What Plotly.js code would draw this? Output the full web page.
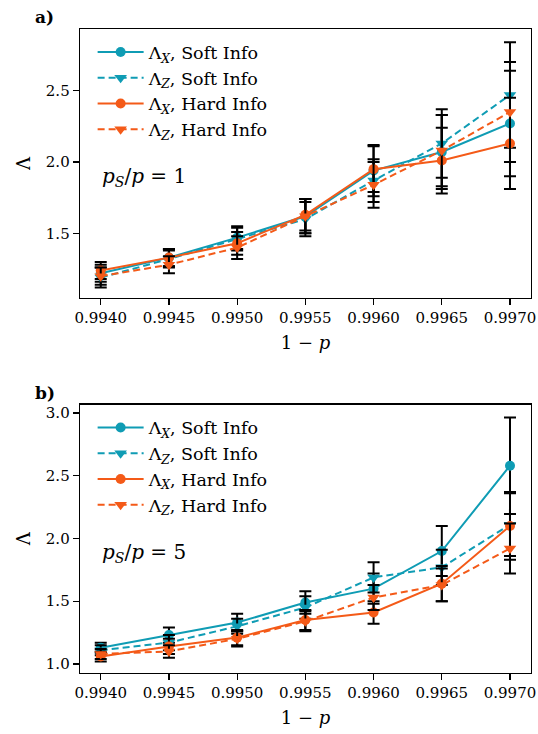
<!DOCTYPE html>
<html>
<head>
<meta charset="utf-8">
<script src="https://cdn.plot.ly/plotly-3.0.1.min.js"></script>
<style>html,body{margin:0;padding:0;background:#fff;}#chart{width:538px;height:734px;}</style>
</head>
<body>
<div id="chart"></div>
<script>
const xVals = [0.9940, 0.9945, 0.9950, 0.9955, 0.9960, 0.9965, 0.9970];

// Panel a) ps/p = 1
const lxSoft1 = [1.22, 1.33, 1.47, 1.62, 1.94, 2.07, 2.27];
const lzSoft1 = [1.19, 1.32, 1.46, 1.60, 1.87, 2.13, 2.47];
const lxHard1 = [1.24, 1.33, 1.43, 1.63, 1.95, 2.01, 2.13];
const lzHard1 = [1.20, 1.28, 1.40, 1.62, 1.84, 2.08, 2.35];
const exSoft1 = [0.06, 0.06, 0.08, 0.12, 0.18, 0.26, 0.37];
const ezSoft1 = [0.07, 0.06, 0.08, 0.12, 0.15, 0.24, 0.37];
const exHard1 = [0.06, 0.06, 0.08, 0.11, 0.16, 0.23, 0.32];
const ezHard1 = [0.06, 0.06, 0.08, 0.12, 0.16, 0.25, 0.35];

// Panel b) ps/p = 5
const lxSoft5 = [1.13, 1.23, 1.33, 1.49, 1.60, 1.90, 2.58];
const lzSoft5 = [1.11, 1.17, 1.30, 1.45, 1.69, 1.77, 2.11];
const lxHard5 = [1.06, 1.14, 1.21, 1.35, 1.41, 1.64, 2.10];
const lzHard5 = [1.08, 1.10, 1.20, 1.34, 1.53, 1.63, 1.92];
const exSoft5 = [0.04, 0.06, 0.07, 0.09, 0.12, 0.20, 0.385];
const ezSoft5 = [0.04, 0.06, 0.06, 0.09, 0.12, 0.14, 0.25];
const exHard5 = [0.04, 0.06, 0.06, 0.08, 0.09, 0.14, 0.27];
const ezHard5 = [0.04, 0.05, 0.06, 0.08, 0.10, 0.13, 0.20];

const seriesNames = [
  "Λ<sub><i>X</i></sub>, Soft Info",
  "Λ<sub><i>Z</i></sub>, Soft Info",
  "Λ<sub><i>X</i></sub>, Hard Info",
  "Λ<sub><i>Z</i></sub>, Hard Info"
];
const tickLabelsX = ["0.9940","0.9945","0.9950","0.9955","0.9960","0.9965","0.9970"];

const TEAL = "#0f9cb4";
const ORANGE = "#f45a18";
const FONT = "'DejaVu Serif', 'Liberation Serif', serif";

function mk(y, err, idx, axis, showleg) {
  const color = (idx < 2) ? TEAL : ORANGE;
  const dashed = (idx % 2 === 1);
  return {
    x: xVals, y: y, type: "scatter", mode: "lines+markers",
    name: seriesNames[idx], showlegend: showleg, legend: axis === 1 ? "legend" : "legend2",
    xaxis: axis === 1 ? "x" : "x2", yaxis: axis === 1 ? "y" : "y2",
    line: {color: color, width: 2, dash: dashed ? "7px,4px" : "solid"},
    marker: {color: color, size: dashed ? 11 : 10, symbol: dashed ? "triangle-down" : "circle", line: {width: 0}},
    error_y: {type: "data", array: err, visible: true, color: "#000", thickness: 2, width: 6}
  };
}

const data = [
  mk(lxSoft1, exSoft1, 0, 1, true), mk(lzSoft1, ezSoft1, 1, 1, true),
  mk(lxHard1, exHard1, 2, 1, true), mk(lzHard1, ezHard1, 3, 1, true),
  mk(lxSoft5, exSoft5, 0, 2, true), mk(lzSoft5, ezSoft5, 1, 2, true),
  mk(lxHard5, exHard5, 2, 2, true), mk(lzHard5, ezHard5, 3, 2, true)
];

const axisCommon = {
  showgrid: false, zeroline: false, showline: true, mirror: true,
  linecolor: "#000", linewidth: 1.3, ticks: "outside", ticklen: 6, tickwidth: 1.3,
  tickcolor: "#000", tickfont: {family: FONT, size: 15, color: "#000"}
};
const xRange = [0.993848, 0.997154];

const layout = {
  width: 538, height: 734,
  margin: {l: 80, r: 7, t: 29, b: 61},
  paper_bgcolor: "#fff", plot_bgcolor: "#fff",
  font: {family: FONT, color: "#000", size: 16},
  showlegend: true,
  xaxis: Object.assign({}, axisCommon, {
    domain: [0, 1], range: xRange, anchor: "y",
    tickmode: "array", tickvals: xVals, ticktext: tickLabelsX,
    title: {text: "1 − <i>p</i>", font: {family: FONT, size: 18}, standoff: 10}
  }),
  yaxis: Object.assign({}, axisCommon, {
    domain: [0.5823, 1], range: [1.047, 2.932], anchor: "x",
    tickmode: "array", tickvals: [1.5, 2.0, 2.5], ticktext: ["1.5","2.0","2.5"],
    title: {text: "Λ", font: {family: FONT, size: 18}, standoff: 10}
  }),
  xaxis2: Object.assign({}, axisCommon, {
    domain: [0, 1], range: xRange, anchor: "y2",
    tickmode: "array", tickvals: xVals, ticktext: tickLabelsX,
    title: {text: "1 − <i>p</i>", font: {family: FONT, size: 18}, standoff: 10}
  }),
  yaxis2: Object.assign({}, axisCommon, {
    domain: [0, 0.4166], range: [0.928, 3.066], anchor: "x2",
    tickmode: "array", tickvals: [1.0, 1.5, 2.0, 2.5, 3.0], ticktext: ["1.0","1.5","2.0","2.5","3.0"],
    title: {text: "Λ", font: {family: FONT, size: 18}, standoff: 10}
  }),
  legend: {x: 0.028, y: 0.992, xanchor: "left", yanchor: "top", bgcolor: "rgba(255,255,255,0)",
    font: {family: FONT, size: 17.5}, tracegroupgap: 0, itemwidth: 46},
  legend2: {x: 0.028, y: 0.409, xanchor: "left", yanchor: "top", bgcolor: "rgba(255,255,255,0)",
    font: {family: FONT, size: 17.5}, tracegroupgap: 0, itemwidth: 46},
  annotations: [
    {text: "<b>a)</b>", xref: "paper", yref: "paper", x: -0.105, y: 1.0, xanchor: "left", yanchor: "bottom", showarrow: false, font: {family: FONT, size: 17}},
    {text: "<b>b)</b>", xref: "paper", yref: "paper", x: -0.105, y: 0.4166, xanchor: "left", yanchor: "bottom", showarrow: false, font: {family: FONT, size: 17}},
    {text: "<i>p<sub>S</sub></i>/<i>p</i> = 1", xref: "paper", yref: "paper", x: 0.045, y: 0.770, xanchor: "left", yanchor: "middle", showarrow: false, font: {family: FONT, size: 20}},
    {text: "<i>p<sub>S</sub></i>/<i>p</i> = 5", xref: "paper", yref: "paper", x: 0.045, y: 0.186, xanchor: "left", yanchor: "middle", showarrow: false, font: {family: FONT, size: 20}}
  ]
};

Plotly.newPlot("chart", data, layout, {staticPlot: true, displayModeBar: false});
</script>
</body>
</html>
